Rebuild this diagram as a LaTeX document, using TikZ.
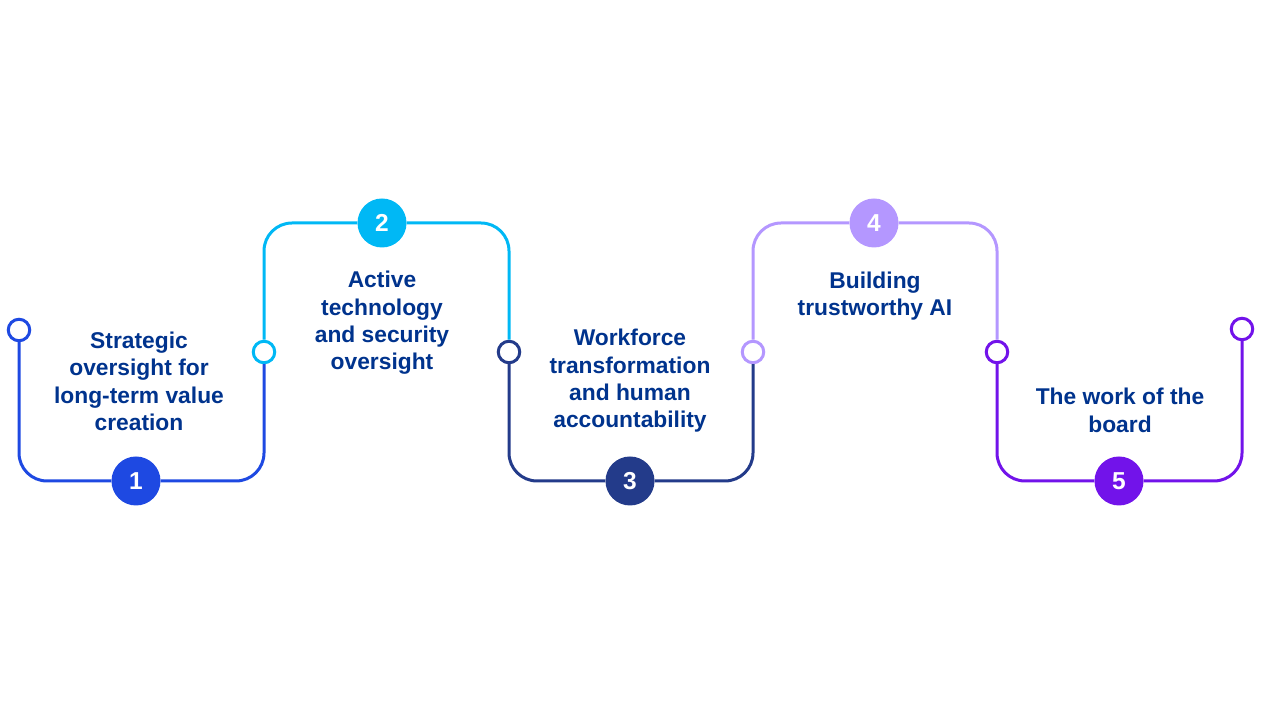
\documentclass[tikz,border=0pt]{standalone}
\usepackage{fontspec}
\setmainfont{Liberation Sans}
\usepackage{xcolor}
\usepackage{tikz}
\usetikzlibrary{positioning}
\definecolor{cCobalt}{HTML}{1E49E2}
\definecolor{cSky}{HTML}{00B8F5}
\definecolor{cNavy}{HTML}{233B8A}
\definecolor{cLilac}{HTML}{B497FF}
\definecolor{cPurple}{HTML}{7213EA}
\definecolor{cText}{HTML}{00338D}
\tikzset{
  dot/.style={circle,draw=#1,fill=white,line width=3pt,minimum size=21.5pt,inner sep=0pt},
  num/.style={circle,fill=#1,text=white,minimum size=49pt,inner sep=0pt,font=\fontsize{24.5}{24.5}\selectfont\bfseries},
  seg/.style={draw=#1,line width=3pt,rounded corners=28pt},
  lbl/.style={align=center,text=cText,font=\fontsize{22.8}{27.3}\selectfont\bfseries},
}

\begin{document}
\begin{tikzpicture}[x=1pt,y=1pt]
  \useasboundingbox (0,0) rectangle (1261,703);
  % joints between the steps
  \foreach \i/\x/\y/\c in {0/19/373/cCobalt,1/264/351/cSky,2/509/351/cNavy,3/753/351/cLilac,4/997/351/cPurple,5/1242/374/cPurple}{
    \node[dot=\c] (p\i) at (\x,\y) {};}
  % numbered badges
  \foreach \i/\x/\y/\c in {1/136/222/cCobalt,2/382/480/cSky,3/630/222/cNavy,4/874/480/cLilac,5/1119/222/cPurple}{
    \node[num=\c] (n\i) at (\x,\y) {\i};}
  \draw[seg=cCobalt] (p0.south) |- (n1.west);
  \draw[seg=cCobalt] (n1.east) -| (p1.south);
  \draw[seg=cSky] (p1.north) |- (n2.west);
  \draw[seg=cSky] (n2.east) -| (p2.north);
  \draw[seg=cNavy] (p2.south) |- (n3.west);
  \draw[seg=cNavy] (n3.east) -| (p3.south);
  \draw[seg=cLilac] (p3.north) |- (n4.west);
  \draw[seg=cLilac] (n4.east) -| (p4.north);
  \draw[seg=cPurple] (p4.south) |- (n5.west);
  \draw[seg=cPurple] (n5.east) -| (p5.south);
  % step texts
  \node[lbl] (t1) at (139,321.5) {Strategic\\oversight for\\long-term value\\creation};
  \node[lbl] (t2) at (382,380) {Active\\technology\\and security\\oversight};
  \node[lbl] (t3) at (630,322) {Workforce\\transformation\\and human\\accountability};
  \node[lbl] (t4) at (875,407) {Building\\trustworthy AI};
  \node[lbl] (t5) at (1120,292.5) {The work of the\\board};
\end{tikzpicture}
\end{document}
